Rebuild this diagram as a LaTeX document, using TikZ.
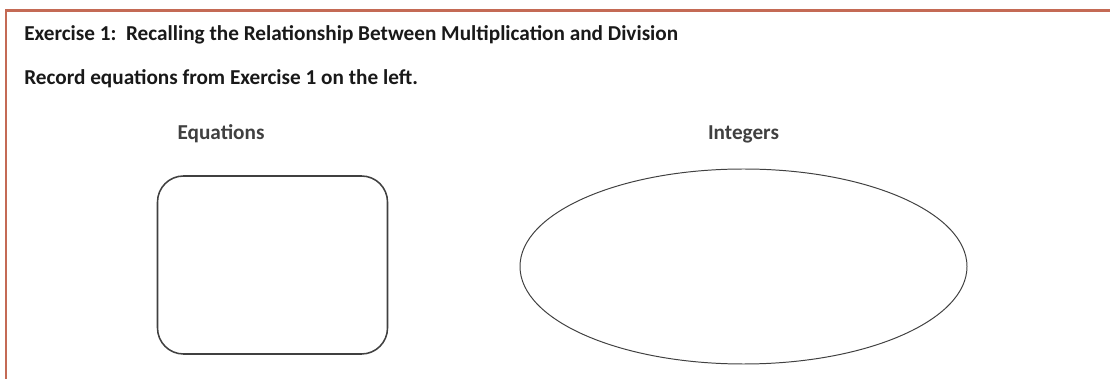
\documentclass[tikz,border=0pt]{standalone}
\usepackage{fontspec}
\setmainfont{Carlito}
\usepackage{tikz}
\definecolor{framered}{HTML}{C46A55}
\definecolor{labelgray}{HTML}{404040}
\definecolor{shapegray}{HTML}{404040}
\tikzstyle{heading} = [anchor=base west, inner sep=0pt, text=black!90, font=\fontsize{15.1}{18}\selectfont\bfseries]
\tikzstyle{colhead} = [anchor=base, inner sep=0pt, text=labelgray, font=\fontsize{15.1}{18}\selectfont\bfseries]
\tikzstyle{frame} = [framered, line width=2pt]
\tikzstyle{outline} = [shapegray]

\begin{document}
\begin{tikzpicture}[x=0.025cm,y=-0.025cm]
    \useasboundingbox (0,0) rectangle (1110,379);
    \draw[frame] (6,379) -- (6,10.5) -- (1110,10.5);
    \node[heading] (title) at (24,41)
        {Exercise 1:\ \ Recalling the Relationship Between Multiplication and Division};
    \node[heading] (task) at (24,85) {Record equations from Exercise 1 on the left.};
    \node[colhead] (eqlabel) at (221,140) {Equations};
    \node[colhead] (intlabel) at (743.5,140) {Integers};
    \draw[outline,line width=1.1pt,rounded corners=0.65cm] (157.5,176) rectangle (387.5,354);
    \draw[outline,line width=0.7pt] (743.5,266.5) ellipse [x radius=223.5, y radius=97.5];
\end{tikzpicture}
\end{document}
